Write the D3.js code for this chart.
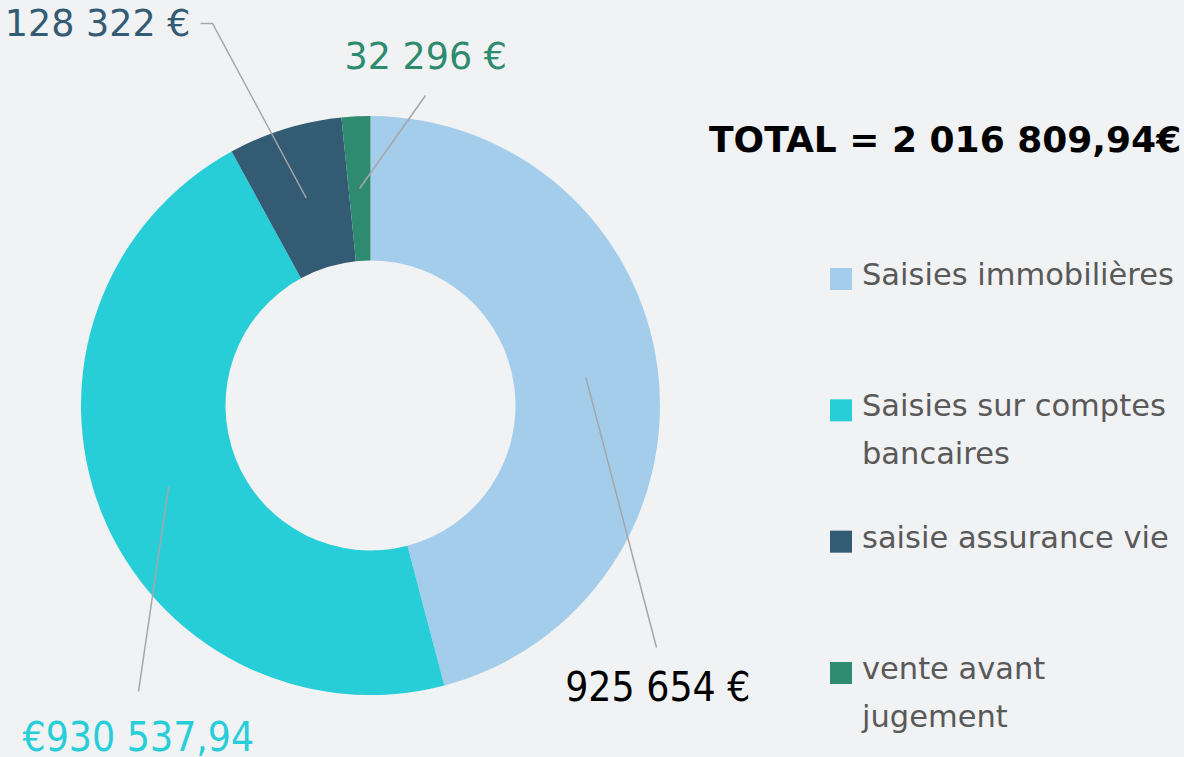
<!DOCTYPE html>
<html>
<head>
<meta charset="utf-8">
<script src="https://cdn.jsdelivr.net/npm/d3@7"></script>
<style>
  body { margin: 0; background: #f1f2f4; }
  svg { display: block; }
</style>
</head>
<body>
<svg id="chart"></svg>
<script>
const width = 1184
const height = 757

const categories = ["Saisies immobilières", "Saisies sur comptes bancaires", "saisie assurance vie", "vente avant jugement"]
const values = [925654, 930537.94, 128322, 32296]
const valueLabels = ["925 654 €", "€930 537,94", "128 322 €", "32 296 €"]
const legendLines = [["Saisies immobilières"], ["Saisies sur comptes", "bancaires"], ["saisie assurance vie"], ["vente avant", "jugement"]]
const colorRange = ["#a4cdec", "#27ced7", "#335b74", "#2e8b6f"]
const totalLabel = "TOTAL = 2 016 809,94€"

const cx = 370.5
const cy = 405.5
const outerR = 289.5
const innerR = 145

const color = d3.scaleOrdinal()
    .domain(categories)
    .range(colorRange)

const svg = d3.select("#chart")
    .attr("width", width)
    .attr("height", height)
    .style("background", "#f1f2f4")

const pie = d3.pie().sort(null).value(d => d.value)
const arc = d3.arc().innerRadius(innerR).outerRadius(outerR)
const midArc = d3.arc().innerRadius((innerR + outerR) / 2).outerRadius((innerR + outerR) / 2)

const data = categories.map((c, i) => ({name: c, value: values[i], label: valueLabels[i]}))
const arcs = pie(data)

const g = svg.append("g")
    .attr("transform", `translate(${cx}, ${cy})`)

g.selectAll("path.slice")
    .data(arcs)
    .enter()
    .append("path")
        .attr("class", "slice")
        .attr("d", arc)
        .style("fill", d => color(d.data.name))

// where each leader line ends and where its label sits (relative to center)
const condensed = "'DejaVu Sans Condensed', 'Liberation Sans Narrow', sans-serif"
const regular = "'DejaVu Sans', Verdana, sans-serif"
const labelLayout = [
    {end: [[286, 242]], text: [380, 295], anchor: "end", font: condensed, size: 40.5, fill: "#000"},
    {end: [[-232, 286]], text: [-348, 345], anchor: "start", font: condensed, size: 40.5, fill: null},
    {end: [[-158, -382], [-170, -382]], text: [-180, -370], anchor: "end", font: regular, size: 36.5, fill: null},
    {end: [[55, -310]], text: [-26, -337], anchor: "start", font: regular, size: 36.5, fill: null}
]

arcs.forEach((d, i) => {
    const lay = labelLayout[i]
    const pts = [midArc.centroid(d)].concat(lay.end)
    g.append("path")
        .attr("d", d3.line()(pts))
        .style("fill", "none")
        .style("stroke", "#a6a6a6")
        .style("stroke-width", 1.5)
    g.append("text")
        .attr("x", lay.text[0])
        .attr("y", lay.text[1])
        .attr("text-anchor", lay.anchor)
        .style("font-family", lay.font)
        .style("font-size", lay.size + "px")
        .style("fill", lay.fill || color(d.data.name))
        .text(d.data.label)
})

svg.append("text")
    .attr("x", 709)
    .attr("y", 152)
    .style("font-family", regular)
    .style("font-weight", "bold")
    .style("font-size", "36px")
    .style("fill", "#000")
    .text(totalLabel)

const legendY = d3.scalePoint()
    .domain(categories)
    .range([285, 679])

const legend = svg.selectAll("g.legend")
    .data(categories)
    .enter()
    .append("g")
        .attr("class", "legend")
        .attr("transform", d => `translate(830, ${legendY(d)})`)

legend.append("rect")
    .attr("x", 0)
    .attr("y", -17)
    .attr("width", 22)
    .attr("height", 22)
    .style("fill", d => color(d))

legend.append("text")
    .attr("x", 32)
    .attr("y", 0)
    .style("font-family", regular)
    .style("font-size", "30.5px")
    .style("fill", "#595959")
    .selectAll("tspan")
    .data((d, i) => legendLines[i])
    .enter()
    .append("tspan")
        .attr("x", 32)
        .attr("dy", (d, i) => i === 0 ? 0 : 48)
        .text(d => d)
</script>
</body>
</html>
